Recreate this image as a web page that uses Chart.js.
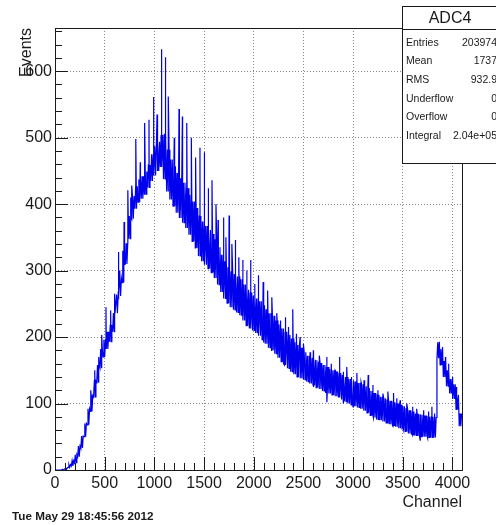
<!DOCTYPE html>
<html><head><meta charset="utf-8">
<script src="https://cdn.jsdelivr.net/npm/chart.js@4/dist/chart.umd.min.js"></script>
<style>html,body{margin:0;padding:0;background:#fff;overflow:hidden}canvas{display:block}</style>
</head><body>
<canvas id="c" width="496" height="525"></canvas>
<script>
// ---- data ----
const binWidth = 32; // channels per envelope bin
const bandLow = [0,0,0,1,4,6,11,20,33,50,68,88,110,132,154,170,182,193,208,236,262,282,310,348,378,393,403,408,415,425,435,443,450,456,438,419,407,397,387,379,372,364,354,344,334,322,314,309,303,297,289,279,268,258,251,245,241,237,233,225,217,213,210,206,202,196,190,184,180,175,169,163,158,153,148,144,140,138,136,133,130,127,124,122,119,116,115,113,111,109,106,103,100,98,96,94,92,89,86,82,79,76,75,73,71,69,67,65,63,61,58,55,53,52,51,50,50,49,49,49,168,158,140,126,115,107,91,66];
const bandHigh = [0,0,1,3,8,14,23,36,51,70,92,112,134,158,182,196,208,218,236,264,289,309,341,382,412,427,437,442,449,459,475,487,494,504,506,482,467,457,447,439,432,424,414,404,394,382,374,367,361,355,347,335,324,314,305,299,295,291,287,279,271,267,262,258,254,248,242,236,232,225,219,213,208,203,198,192,188,184,177,172,169,166,163,161,158,155,152,150,148,146,143,140,137,135,133,131,129,126,123,119,116,113,110,108,106,104,102,100,98,96,93,90,88,85,84,83,82,80,80,79,192,182,164,150,137,129,113,85];
const spikes = [[360,120],[400,150],[440,170],[470,203],[513,245],[560,240],[600,265],[636,328],[650,300],[680,330],[695,373],[733,421],[760,410],[772,428],[813,498],[858,463],[902,522],[946,527],[990,561],[1027,535],[1070,633],[1109,621],[1140,562],[1200,500],[1248,543],[1282,532],[1326,522],[1372,500],[1415,470],[1459,485],[1500,478],[1540,424],[1580,436],[1620,400],[1641,376],[1692,380],[1720,350],[1752,383],[1780,340],[1813,346],[1850,320],[1890,316],[1930,300],[1968,316],[2010,280],[2044,293],[2095,283],[2140,270],[2182,260],[2232,236],[2270,225],[2316,230],[2350,215],[2393,242],[2430,205],[2467,200],[2500,190],[2567,177],[2600,180],[2635,165],[2660,172],[2700,158],[2736,170],[2780,160],[2820,150],[2862,170],[2900,148],[2936,155],[2980,140],[3038,146],[3080,132],[3110,135],[3152,143],[3200,128],[3250,120],[3300,115],[3350,118],[3407,116],[3440,108],[3474,105],[3540,100],[3600,95],[3640,92],[3710,90],[3760,88],[3793,95],[3820,85],[3867,193],[3900,185],[3930,170],[3960,160],[4000,140],[4040,125]];
const dips = [[1600,300],[1700,262],[1880,236],[2100,192],[2300,160],[2450,140],[2600,125],[2736,102],[2900,100],[3000,95],[3200,82],[3400,66],[3505,63],[3600,52],[3675,45],[3750,48]];
const xTicks = [0,500,1000,1500,2000,2500,3000,3500,4000];
const yTicks = [0,100,200,300,400,500,600];
const xRange = [0,4096];
const yRange = [0,665];
const xTitle = 'Channel';
const yTitle = 'Events';
const statsTitle = 'ADC4';
const statsLabels = ['Entries','Mean','RMS','Underflow','Overflow','Integral'];
const statsValues = ['203974','1737','932.9','0','0','2.04e+05'];
const dateText = 'Tue May 29 18:45:56 2012';

// ---- build line points: zig-zag between the read lower/upper envelope ----
const pts = [];
bandLow.forEach((v,i)=>{
  const b = i*binWidth;
  pts.push({x:b+4, y:v});
  pts.push({x:b+12, y:bandHigh[i]});
  pts.push({x:b+20, y:v});
  pts.push({x:b+28, y:bandHigh[i]});
});
spikes.concat(dips).forEach(([c,v])=>pts.push({x:c,y:v}));
pts.sort((a,b)=>a.x-b.x);

const FONT = 'Liberation Sans';
const INK = '#1a1a1a';

const rootStyle = {
  id:'rootStyle',
  afterDraw(chart){
    const {ctx, chartArea:a, scales:{x,y}} = chart;
    ctx.save();
    ctx.strokeStyle = INK; ctx.lineWidth = 1;
    ctx.beginPath();
    for (let v=xRange[0]; v<=xRange[1]; v+=100){
      const px = Math.round(x.getPixelForValue(v))+0.5;
      const len = v%500===0 ? 13 : 7;
      ctx.moveTo(px, a.bottom); ctx.lineTo(px, a.bottom-len);
    }
    for (let v=yRange[0]; v<=yRange[1]; v+=20){
      const py = Math.round(y.getPixelForValue(v))+0.5;
      const len = v%100===0 ? 13 : 7;
      ctx.moveTo(a.left, py); ctx.lineTo(a.left+len, py);
    }
    ctx.stroke();
    ctx.strokeRect(Math.round(a.left)+0.5, Math.round(a.top)+0.5, Math.round(a.right-a.left), Math.round(a.bottom-a.top));
    // stats box
    const bx = 402, by = 6, bw = 110, bh = 157, th = 23;
    ctx.fillStyle = '#fff';
    ctx.fillRect(bx, by, bw, bh);
    ctx.strokeRect(bx+0.5, by+0.5, bw, bh);
    ctx.beginPath(); ctx.moveTo(bx, by+th+0.5); ctx.lineTo(bx+bw, by+th+0.5); ctx.stroke();
    ctx.fillStyle = INK;
    ctx.textBaseline = 'middle';
    ctx.font = '16px "'+FONT+'"';
    ctx.textAlign = 'center';
    ctx.fillText(statsTitle, 450, by+th/2+1);
    ctx.font = '10.5px "'+FONT+'"';
    statsLabels.forEach((l,i)=>{
      const yy = 43 + i*18.6;
      ctx.textAlign = 'left'; ctx.fillText(l, 406, yy);
      ctx.textAlign = 'right'; ctx.fillText(statsValues[i], 497, yy);
    });
    // date
    ctx.font = 'bold 11.7px "'+FONT+'"';
    ctx.textAlign = 'left';
    ctx.fillText(dateText, 12, 517);
    ctx.restore();
  }
};

new Chart(document.getElementById('c'), {
  type:'line',
  data:{datasets:[{data:pts, borderColor:'#0000ee', borderWidth:1.2, pointRadius:0, tension:0, fill:false}]},
  options:{
    responsive:false, animation:false, events:[],
    layout:{padding:{left:0,right:34,top:28,bottom:0}},
    plugins:{legend:{display:false}, tooltip:{enabled:false}},
    scales:{
      x:{type:'linear', min:xRange[0], max:xRange[1],
        afterFit(s){ s.height = 55; },
        afterBuildTicks(s){ s.ticks = xTicks.map(v=>({value:v})); },
        grid:{color:'#888', lineWidth:1, drawTicks:false},
        border:{display:false, dash:[1,2]},
        ticks:{padding:4, maxRotation:0, autoSkip:false, color:INK, font:{family:FONT,size:16}, callback:v=>String(v)},
        title:{display:true, text:xTitle, align:'end', color:INK, font:{family:FONT,size:16}, padding:{top:0,bottom:13}}
      },
      y:{type:'linear', min:yRange[0], max:yRange[1],
        afterFit(s){ s.width = 55; },
        afterBuildTicks(s){ s.ticks = yTicks.map(v=>({value:v})); },
        grid:{color:'#888', lineWidth:1, drawTicks:false},
        border:{display:false, dash:[1,2]},
        ticks:{padding:3, autoSkip:false, color:INK, font:{family:FONT,size:16}, callback:v=>String(v)},
        title:{display:true, text:yTitle, align:'end', color:INK, font:{family:FONT,size:16}, padding:{top:17,bottom:0}}
      }
    }
  },
  plugins:[rootStyle]
});
</script>
</body></html>
